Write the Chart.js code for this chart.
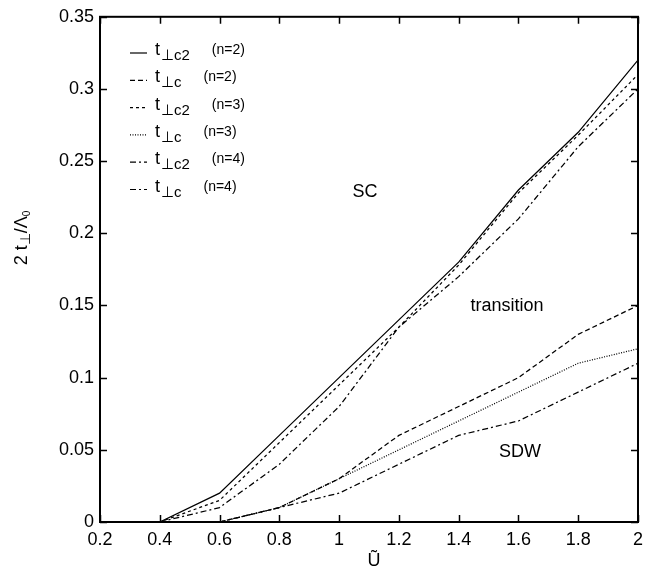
<!DOCTYPE html>
<html>
<head>
<meta charset="utf-8">
<script src="https://cdn.jsdelivr.net/npm/chart.js@4.4.1/dist/chart.umd.min.js"></script>
<style>
  html, body { margin: 0; padding: 0; background: #fff; }
  #wrap { width: 650px; height: 574px; }
</style>
</head>
<body>
<div id="wrap"><canvas id="phase"></canvas></div>
<script>
// U values where each curve is sampled
var uC2 = [0.4, 0.6, 0.8, 1.0, 1.2, 1.4, 1.6, 1.8, 2.0];
var uC  = [0.6, 0.8, 1.0, 1.2, 1.4, 1.6, 1.8, 2.0];

// 2 t_perp / Lambda_0
var tc2n2 = [0, 0.020, 0.060, 0.100, 0.140, 0.180, 0.230, 0.270, 0.320];
var tcn2  = [0, 0.010, 0.030, 0.060, 0.080, 0.100, 0.130, 0.150];
var tc2n3 = [0, 0.015, 0.055, 0.095, 0.135, 0.178, 0.228, 0.268, 0.310];
var tcn3  = [0, 0.010, 0.030, 0.050, 0.070, 0.090, 0.110, 0.120];
var tc2n4 = [0, 0.010, 0.040, 0.080, 0.135, 0.170, 0.210, 0.260, 0.300];
var tcn4  = [0, 0.010, 0.020, 0.040, 0.060, 0.070, 0.090, 0.110];

var xTicks = [0.2, 0.4, 0.6, 0.8, 1, 1.2, 1.4, 1.6, 1.8, 2];
var yTicks = [0, 0.05, 0.1, 0.15, 0.2, 0.25, 0.3, 0.35];

var FONT = '"Liberation Sans", Arial, Helvetica, sans-serif';

function pts(xs, ys) {
  return xs.map(function (x, i) { return { x: x, y: ys[i] }; });
}

var series = [
  { sub: '\u22A5c2', n: 'n=2', xs: uC2, ys: tc2n2, dash: [] },
  { sub: '\u22A5c',  n: 'n=2', xs: uC,  ys: tcn2,  dash: [5, 3] },
  { sub: '\u22A5c2', n: 'n=3', xs: uC2, ys: tc2n3, dash: [3, 3] },
  { sub: '\u22A5c',  n: 'n=3', xs: uC,  ys: tcn3,  dash: [1, 1.5] },
  { sub: '\u22A5c2', n: 'n=4', xs: uC2, ys: tc2n4, dash: [6, 3, 2, 3] },
  { sub: '\u22A5c',  n: 'n=4', xs: uC,  ys: tcn4,  dash: [6, 3, 2, 3] }
];

// frame, inward ticks, legend, region labels and axis titles
var decor = {
  id: 'decor',
  afterDraw: function (chart) {
    var c = chart.ctx, a = chart.chartArea;
    var xs = chart.scales.x, ys = chart.scales.y;
    c.save();
    c.strokeStyle = '#000';
    c.lineWidth = 2;
    c.setLineDash([]);
    c.strokeRect(a.left, a.top, a.right - a.left, a.bottom - a.top);
    c.lineWidth = 1.5;
    c.beginPath();
    xTicks.forEach(function (v) {
      var px = Math.round(xs.getPixelForValue(v)) + 0.5;
      c.moveTo(px, a.bottom); c.lineTo(px, a.bottom - 7);
      c.moveTo(px, a.top); c.lineTo(px, a.top + 7);
    });
    yTicks.forEach(function (v) {
      var py = Math.round(ys.getPixelForValue(v)) + 0.5;
      c.moveTo(a.left, py); c.lineTo(a.left + 7, py);
      c.moveTo(a.right, py); c.lineTo(a.right - 7, py);
    });
    c.stroke();

    // legend
    c.fillStyle = '#000';
    c.textBaseline = 'alphabetic';
    series.forEach(function (s, i) {
      var y = 53 + i * 27.3;
      c.lineWidth = 1.2;
      c.setLineDash(s.dash);
      c.beginPath();
      c.moveTo(130, y); c.lineTo(147, y);
      c.stroke();
      c.setLineDash([]);
      c.textAlign = 'left';
      c.font = '18px ' + FONT;
      c.fillText('t', 155, y + 2);
      c.font = '15px ' + FONT;
      c.fillText(s.sub, 161, y + 7);
      var w = c.measureText(s.sub).width;
      c.font = '14px ' + FONT;
      c.fillText('(' + s.n + ')', 161 + w + 22, y + 1);
    });

    // region labels
    c.font = '18px ' + FONT;
    c.textAlign = 'center';
    c.textBaseline = 'middle';
    c.fillText('SC', 365, 192);
    c.fillText('transition', 507, 306);
    c.fillText('SDW', 520, 452);

    // x title
    c.fillText('\u0168', 374, 561);

    // y title, rotated
    c.translate(22, 238);
    c.rotate(-Math.PI / 2);
    c.textAlign = 'left';
    c.textBaseline = 'middle';
    var parts = [['2 t', 18, 0], ['\u22A5', 14, 4], ['/\u039B', 18, 0], ['0', 10, 5]];
    var total = 0;
    parts.forEach(function (p) { c.font = p[1] + 'px ' + FONT; total += c.measureText(p[0]).width; });
    var x0 = -total / 2;
    parts.forEach(function (p) {
      c.font = p[1] + 'px ' + FONT;
      c.fillText(p[0], x0, p[2]);
      x0 += c.measureText(p[0]).width;
    });
    c.restore();
  }
};

new Chart(document.getElementById('phase'), {
  type: 'line',
  data: {
    datasets: series.map(function (s) {
      return {
        data: pts(s.xs, s.ys),
        borderColor: '#000',
        borderWidth: 1.25,
        borderDash: s.dash,
        pointRadius: 0,
        fill: false,
        tension: 0
      };
    })
  },
  options: {
    responsive: true,
    maintainAspectRatio: false,
    animation: false,
    layout: { padding: { left: 0, right: 9, top: 12, bottom: 0 } },
    plugins: { legend: { display: false }, tooltip: { enabled: false } },
    scales: {
      x: {
        type: 'linear',
        min: 0.2, max: 2,
        grid: { display: false, drawTicks: false },
        border: { display: false },
        afterBuildTicks: function (s) { s.ticks = xTicks.map(function (v) { return { value: v }; }); },
        afterFit: function (s) { s.height = 52; },
        ticks: {
          color: '#000', padding: 7,
          font: { family: FONT, size: 18 },
          maxRotation: 0,
          callback: function (v) { return String(+v.toFixed(2)); }
        }
      },
      y: {
        type: 'linear',
        min: 0, max: 0.35,
        grid: { display: false, drawTicks: false },
        border: { display: false },
        afterBuildTicks: function (s) { s.ticks = yTicks.map(function (v) { return { value: v }; }); },
        afterFit: function (s) { s.width = 100; },
        ticks: {
          color: '#000', padding: 6,
          font: { family: FONT, size: 18 },
          callback: function (v) { return String(+v.toFixed(2)); }
        }
      }
    }
  },
  plugins: [decor]
});
</script>
</body>
</html>
